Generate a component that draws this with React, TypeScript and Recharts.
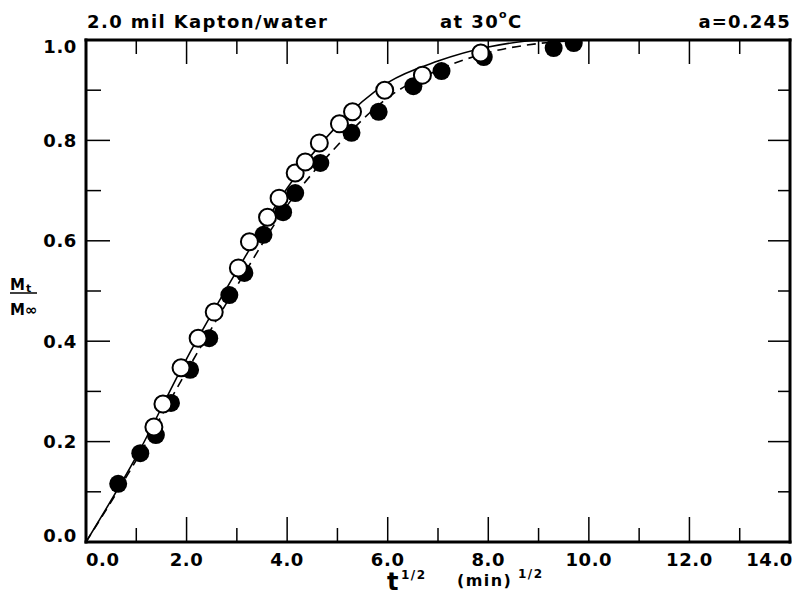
import React from 'react';
import { ComposedChart, Line, Scatter, XAxis, YAxis, Label } from 'recharts';

// axis ticks (t^1/2 in (min)^1/2, Mt/Minf fraction)
const xTicks = [0, 1, 2, 3, 4, 5, 6, 7, 8, 9, 10, 11, 12, 13, 14];
const xTickLabels = ['0.0', '', '2.0', '', '4.0', '', '6.0', '', '8.0', '', '10.0', '', '12.0', '', '14.0'];
const yTicks = [0, 0.1, 0.2, 0.3, 0.4, 0.5, 0.6, 0.7, 0.8, 0.9, 1.0];
const yTickLabels = ['0.0', '', '0.2', '', '0.4', '', '0.6', '', '0.8', '', '1.0'];

// filled circles
const filledX = [0.64, 1.08, 1.39, 1.69, 2.07, 2.45, 2.85, 3.15, 3.53, 3.92, 4.16, 4.66, 5.28, 5.82, 6.51, 7.07, 7.91, 9.30, 9.70];
const filledY = [0.116, 0.177, 0.213, 0.277, 0.343, 0.406, 0.492, 0.536, 0.612, 0.657, 0.695, 0.755, 0.815, 0.857, 0.908, 0.938, 0.966, 0.984, 0.994];

// open circles
const openX = [1.35, 1.53, 1.89, 2.23, 2.55, 3.03, 3.25, 3.61, 3.84, 4.16, 4.36, 4.64, 5.04, 5.30, 5.94, 6.69, 7.85];
const openY = [0.229, 0.275, 0.347, 0.406, 0.458, 0.546, 0.598, 0.647, 0.685, 0.735, 0.757, 0.795, 0.833, 0.857, 0.900, 0.930, 0.974];

// theory curves
const curveX = [0, 1, 2, 3, 4, 5, 6, 7, 8, 9, 10];
const solidY = [0, 0.17, 0.365, 0.54, 0.705, 0.83, 0.915, 0.958, 0.986, 0.999, 1.0];
const dashedY = [0, 0.163, 0.34, 0.51, 0.67, 0.79, 0.885, 0.94, 0.975, 0.993, 1.0];

const zip = (xs: number[], ys: number[]) => xs.map((x, i) => ({ x, y: ys[i] }));
const filledData = zip(filledX, filledY);
const openData = zip(openX, openY);
const solidData = zip(curveX, solidY);
const dashedData = zip(curveX, dashedY);

const FONT = '"DejaVu Sans", "Liberation Sans", sans-serif';
const axisLine = { stroke: '#000', strokeWidth: 3, strokeLinecap: 'square' as const };

const BottomTick = (props: any) => {
  const { x, y, index } = props;
  const major = index % 2 === 0;
  const label = xTickLabels[index];
  let anchor = 'middle';
  let dx = 0;
  if (index === 0) { anchor = 'start'; dx = 0; }
  if (index === xTicks.length - 1) { anchor = 'end'; dx = 3; }
  return (
    <g>
      {index > 0 && index < xTicks.length - 1 && (
        <line x1={x} y1={y} x2={x} y2={y - (major ? 25 : 14)} stroke="#000" strokeWidth={1.5} />
      )}
      {label && (
        <text x={x + dx} y={y + 24} textAnchor={anchor} fontFamily={FONT} fontWeight="bold" fontSize={18} letterSpacing={0.6} fill="#000">
          {label}
        </text>
      )}
    </g>
  );
};

const TopTick = (props: any) => {
  const { x, y, index } = props;
  if (index === 0 || index === xTicks.length - 1) return <g />;
  const major = index % 2 === 0;
  return <line x1={x} y1={y} x2={x} y2={y + (major ? 24 : 14)} stroke="#000" strokeWidth={1.5} />;
};

const LeftTick = (props: any) => {
  const { x, y, index } = props;
  const major = index % 2 === 0;
  const label = yTickLabels[index];
  let dy = 6.5;
  if (index === 0) dy = 0;
  if (index === yTicks.length - 1) dy = 13;
  return (
    <g>
      {index > 0 && index < yTicks.length - 1 && (
        <line x1={x} y1={y} x2={x + (major ? 24 : 15)} y2={y} stroke="#000" strokeWidth={1.5} />
      )}
      {label && (
        <text x={x - 9} y={y + dy} textAnchor="end" fontFamily={FONT} fontWeight="bold" fontSize={18} letterSpacing={0.6} fill="#000">
          {label}
        </text>
      )}
    </g>
  );
};

const RightTick = (props: any) => {
  const { x, y, index } = props;
  if (index === 0 || index === yTicks.length - 1) return <g />;
  const major = index % 2 === 0;
  return <line x1={x} y1={y} x2={x - (major ? 22 : 12)} y2={y} stroke="#000" strokeWidth={1.5} />;
};

const TopTitles = () => (
  <g fontFamily={FONT} fontWeight="bold" fill="#000">
    <text x={87} y={28} fontSize={18} letterSpacing={1.4}>2.0 mil Kapton/water</text>
    <text x={440} y={28} fontSize={18} letterSpacing={1.4}>
      at 30<tspan fontSize={11} dy={-10}>o</tspan><tspan dy={10}>C</tspan>
    </text>
    <text x={791} y={28} fontSize={18} letterSpacing={1.2} textAnchor="end">a=0.245</text>
  </g>
);

const XTitle = () => (
  <g fontFamily={FONT} fontWeight="bold" fill="#000">
    <text x={387} y={590} fontSize={24}>t</text>
    <text x={401} y={579} fontSize={12} letterSpacing={1.5}>1/2</text>
    <text x={457} y={586} fontSize={16} letterSpacing={1.4}>(min)</text>
    <text x={518} y={578} fontSize={12} letterSpacing={1.5}>1/2</text>
  </g>
);

const YTitle = () => (
  <g fontFamily={FONT} fontWeight="bold" fill="#000">
    <text x={10} y={290} fontSize={15}>M<tspan fontSize={11} dx={1} dy={2}>t</tspan></text>
    <line x1={10} y1={293} x2={37} y2={293} stroke="#000" strokeWidth={1.5} />
    <text x={10} y={315} fontSize={15}>M∞</text>
  </g>
);

const FilledDot = (props: any) => <circle cx={props.cx} cy={props.cy} r={9} fill="#000" />;
const OpenDot = (props: any) => (
  <circle cx={props.cx} cy={props.cy} r={8.5} fill="#fff" stroke="#000" strokeWidth={2} />
);

export default function App() {
  return (
    <div style={{ position: 'absolute', left: 0, top: 0, background: '#fff' }}>
      <ComposedChart width={798} height={597} margin={{ top: 39, right: 7, bottom: 0, left: 0 }}>
        <XAxis
          xAxisId="b"
          dataKey="x"
          type="number"
          domain={[0, 14]}
          ticks={xTicks}
          allowDataOverflow
          height={55}
          tickSize={0}
          tickMargin={0}
          tickLine={false}
          axisLine={axisLine}
          tick={BottomTick}
          interval={0}
        >
          <Label content={XTitle} />
        </XAxis>
        {/* frame: top and right axes share the same scales */}
        <XAxis
          xAxisId="t"
          orientation="top"
          dataKey="x"
          type="number"
          domain={[0, 14]}
          ticks={xTicks}
          allowDataOverflow
          height={1}
          tickSize={0}
          tickMargin={0}
          tickLine={false}
          axisLine={axisLine}
          tick={TopTick}
          interval={0}
        >
          <Label content={TopTitles} />
        </XAxis>
        <YAxis
          yAxisId="l"
          type="number"
          domain={[0, 1]}
          ticks={yTicks}
          allowDataOverflow
          width={86}
          tickSize={0}
          tickMargin={0}
          tickLine={false}
          axisLine={axisLine}
          tick={LeftTick}
          interval={0}
        >
          <Label content={YTitle} />
        </YAxis>
        <YAxis
          yAxisId="r"
          orientation="right"
          type="number"
          domain={[0, 1]}
          ticks={yTicks}
          allowDataOverflow
          width={1}
          tickSize={0}
          tickMargin={0}
          tickLine={false}
          axisLine={axisLine}
          tick={RightTick}
          interval={0}
        />
        <Line
          xAxisId="b"
          yAxisId="l"
          data={solidData}
          dataKey="y"
          type="monotone"
          stroke="#000"
          strokeWidth={1.6}
          dot={false}
          isAnimationActive={false}
        />
        <Line
          xAxisId="t"
          yAxisId="r"
          data={dashedData}
          dataKey="y"
          type="monotone"
          stroke="#000"
          strokeWidth={1.6}
          strokeDasharray="9 6"
          dot={false}
          isAnimationActive={false}
        />
        <Scatter xAxisId="b" yAxisId="l" data={filledData} dataKey="y" shape={FilledDot} isAnimationActive={false} />
        <Scatter xAxisId="b" yAxisId="l" data={openData} dataKey="y" shape={OpenDot} isAnimationActive={false} />
      </ComposedChart>
    </div>
  );
}
